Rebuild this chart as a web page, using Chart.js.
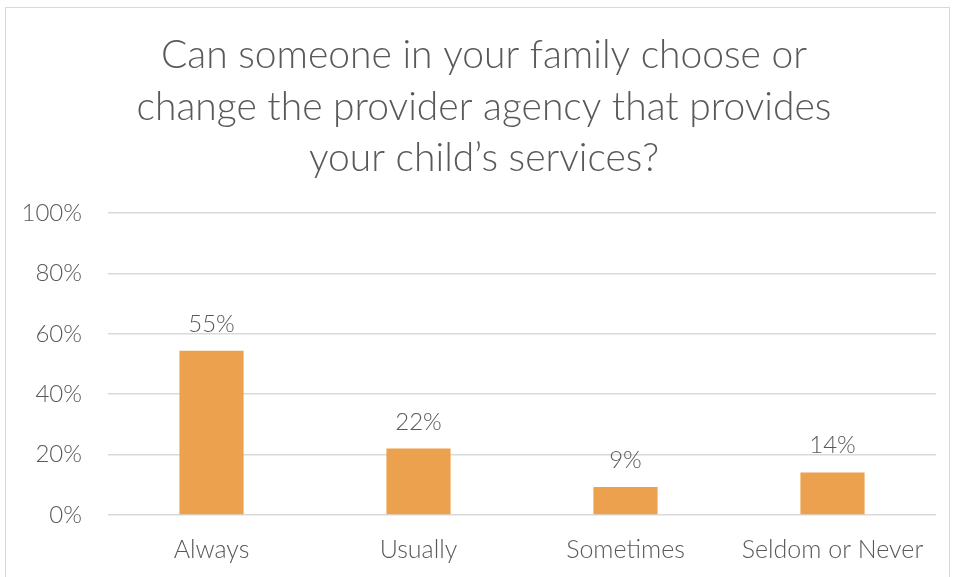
<!DOCTYPE html>
<html>
<head>
<meta charset="utf-8">
<script src="https://cdn.jsdelivr.net/npm/chart.js@4.4.0/dist/chart.umd.min.js"></script>
<style>
  html, body { margin: 0; padding: 0; background: #fff; }
  #wrap { position: relative; width: 956px; height: 577px; overflow: hidden; }
  #frame { position: absolute; left: 5px; top: 7px; width: 945px; height: 580px; border: 1px solid #d9d9d9; box-sizing: border-box; }
  #chart { position: absolute; left: 0; top: 0; }
</style>
</head>
<body>
<div id="wrap">
  <div id="frame"></div>
  <canvas id="chart" width="956" height="577"></canvas>
</div>
<script>
// 数据
const categories = ['Always', 'Usually', 'Sometimes', 'Seldom or Never'];
const percentValues = [54.4, 22, 9.3, 14.1];
const percentLabels = ['55%', '22%', '9%', '14%'];
const yTicks = [0, 20, 40, 60, 80, 100];
const titleLines = ['Can someone in your family choose or', 'change the provider agency that provides', 'your child\u2019s services?'];

const textColor = '#595959';
const barColor = '#ECA14E';
const fontFamily = "Lato, Inter, 'Noto Sans', sans-serif";

Chart.defaults.font.family = fontFamily;
Chart.defaults.font.weight = 300;
Chart.defaults.color = textColor;

// 插件：标题（居中于图框）
const chartTitle = {
  id: 'chartTitle',
  afterDraw(chart) {
    const ctx = chart.ctx;
    ctx.save();
    ctx.font = `300 39px ${fontFamily}`;
    ctx.fillStyle = textColor;
    ctx.textAlign = 'center';
    ctx.textBaseline = 'middle';
    titleLines.forEach((line, i) => {
      ctx.fillText(line, 484, 30 + 51.5 * (i + 0.5));
    });
    ctx.restore();
  }
};

// 插件：柱顶数值标签
const barLabels = {
  id: 'barLabels',
  afterDatasetsDraw(chart) {
    const ctx = chart.ctx;
    const meta = chart.getDatasetMeta(0);
    ctx.save();
    ctx.font = `300 24px ${fontFamily}`;
    ctx.fillStyle = textColor;
    ctx.textAlign = 'center';
    ctx.textBaseline = 'alphabetic';
    meta.data.forEach((bar, i) => {
      ctx.fillText(percentLabels[i], bar.x, bar.y - 19);
    });
    ctx.restore();
  }
};

new Chart(document.getElementById('chart'), {
  type: 'bar',
  data: {
    labels: categories,
    datasets: [{
      data: percentValues,
      backgroundColor: barColor,
      borderWidth: 0,
      barPercentage: 0.31,
      categoryPercentage: 1
    }]
  },
  options: {
    responsive: false,
    animation: false,
    layout: { padding: { top: 213, right: 20, bottom: 0, left: 0 } },
    plugins: {
      legend: { display: false },
      tooltip: { enabled: false },
      title: { display: false }
    },
    scales: {
      x: {
        grid: { display: false },
        border: { display: false },
        ticks: { color: textColor, font: { size: 25, weight: 300 }, padding: 12 }
      },
      y: {
        min: 0,
        max: 100,
        afterBuildTicks: (axis) => { axis.ticks = yTicks.map(v => ({ value: v })); },
        afterFit: (axis) => { axis.width = 108; },
        grid: { color: '#d9d9d9', lineWidth: 1.5, drawTicks: false },
        border: { display: false },
        ticks: { color: textColor, font: { size: 24, weight: 300 }, padding: 26, callback: v => v + '%' }
      }
    }
  },
  plugins: [barLabels, chartTitle]
});
</script>
</body>
</html>
